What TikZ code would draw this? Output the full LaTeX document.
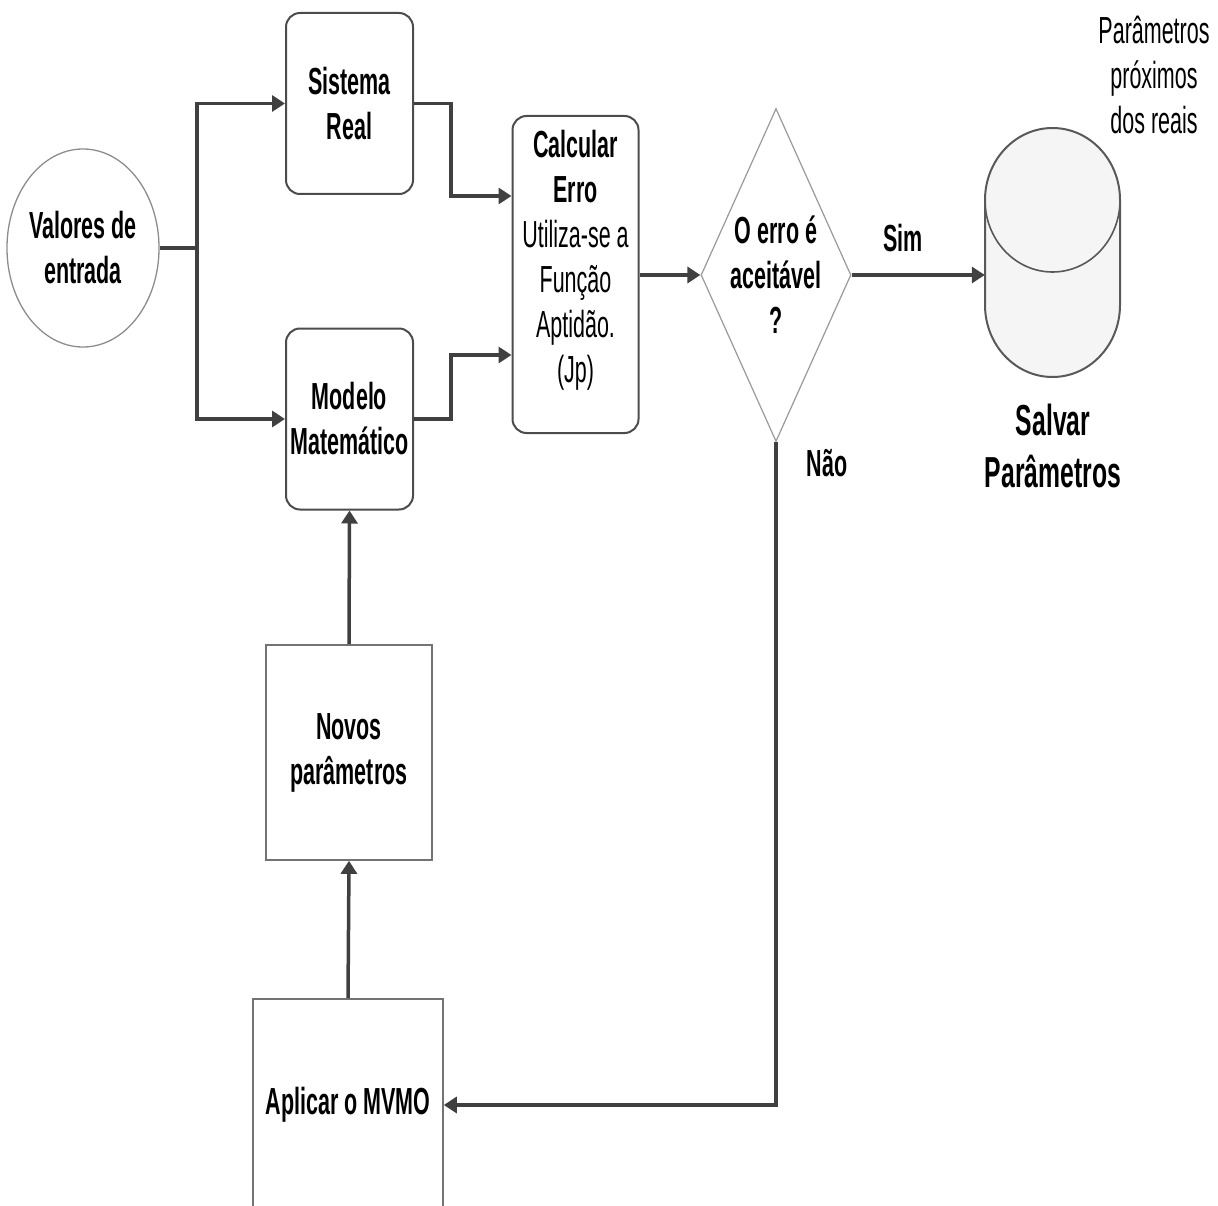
\documentclass[tikz,border=0pt]{standalone}
\usepackage{fontspec}
\setmainfont{Liberation Sans}
\newfontfamily\nf[FakeStretch=0.57]{Liberation Sans}
\usetikzlibrary{arrows.meta,shapes.geometric}
\begin{document}
\begin{tikzpicture}[x=1pt,y=-1pt,
  every node/.style={font=\nf\fontsize{37.7}{45}\selectfont, align=center, inner sep=0pt},
  bf/.style={font=\nf\bfseries\fontsize{37.7}{45}\selectfont},
  rbox/.style={draw=black!70, line width=2pt, rounded corners=14pt, minimum width=127pt, minimum height=181pt, bf},
  sbox/.style={draw=black!55, line width=1.6pt, bf},
  conn/.style={draw=black!75, line width=3.5pt},
  arr/.style={conn, -{Triangle[length=13pt,width=16pt]}}
]
\useasboundingbox (0,0) rectangle (1218,1206);

% nodes
\node[ellipse, draw=black!45, line width=1.3pt, minimum width=152pt, minimum height=198pt, bf] (in) at (83,248) {Valores de\\entrada};
\node[rbox] (sys) at (349.5,103.5) {Sistema\\Real};
\node[rbox] (mod) at (349.5,419) {Modelo\\Matemático};
\node[draw=black!70, line width=2pt, rounded corners=14pt, minimum width=126pt, minimum height=317pt] (calc) at (575.5,274.5) {};
\node (calct) at (575.5,260) {{\bfseries Calcular}\\{\bfseries Erro}\\Utiliza-se a\\Função\\Aptidão.\\(Jp)};
\node[diamond, draw=black!40, line width=1.2pt, aspect=0.45, minimum width=150pt, minimum height=333pt] (dia) at (776,275) {};
\node[bf] (diat) at (776,275) {O erro é\\aceitável\\?};
\node[sbox, minimum width=166pt, minimum height=215pt] (nov) at (349,752.5) {Novos\\parâmetros};
\node[sbox, minimum width=190pt, minimum height=212pt] (apl) at (348,1105) {Aplicar o MVMO};

% database cylinder
\node[minimum width=135pt, minimum height=250pt] (db) at (1052.5,252.5) {};
\draw[draw=black!65, line width=2pt, fill=black!4]
  (985,200) -- (985,305) arc[start angle=180, end angle=0, x radius=67.5, y radius=72]
  -- (1120,200) arc[start angle=0, end angle=-180, x radius=67.5, y radius=72] -- cycle;
\draw[draw=black!65, line width=1.6pt]
  (985,200) arc[start angle=180, end angle=0, x radius=67.5, y radius=72];

% labels
\node[bf] (sim) at (903,238) {Sim};
\node[bf] (nao) at (827,463) {Não};
\node[font=\nf\bfseries\fontsize{43.4}{52}\selectfont] (salv) at (1053,446) {Salvar\\Parâmetros};
\node (prox) at (1154,75) {Parâmetros\\próximos\\dos reais};

% connectors
\coordinate (j) at (197,248);
\draw[conn] (in.east) -- (j);
\draw[arr] (j) |- (sys.west);
\draw[arr] (j) |- (mod.west);
\draw[arr] (sys.east) -- (451,103.5) -- (451,196) -- (calc.west |- 0,196);
\draw[arr] (mod.east) -- (451,419) -- (451,355) -- (calc.west |- 0,355);
\draw[arr] (calc.east |- dia.west) -- (dia.west);
\draw[arr] (dia.east) -- (dia.east -| db.west);
\draw[arr] (dia.south) |- (apl.east);
\draw[arr] (apl.north) -- (nov.south);
\draw[arr] (nov.north) -- (mod.south);
\end{tikzpicture}
\end{document}
